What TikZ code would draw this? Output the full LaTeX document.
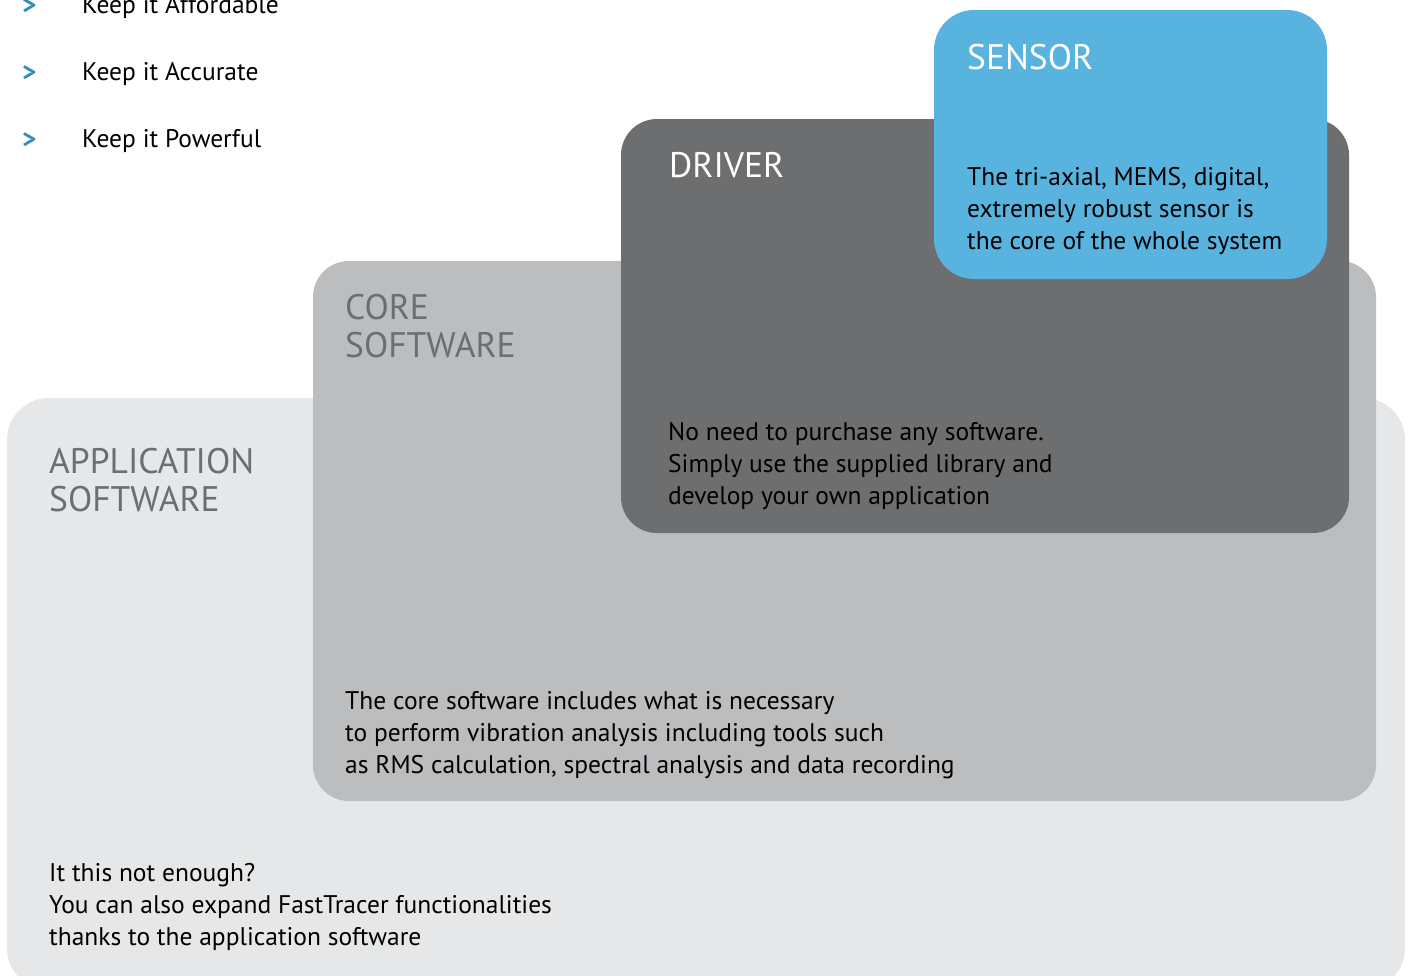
\documentclass[tikz,border=0pt]{standalone}
\usepackage{fontspec}
\setmainfont{PT Sans}
\definecolor{appfill}{RGB}{230,231,232}
\definecolor{corefill}{RGB}{188,189,191}
\definecolor{driverfill}{RGB}{109,110,112}
\definecolor{sensorfill}{RGB}{88,180,222}
\definecolor{bulletblue}{RGB}{52,142,184}
\definecolor{headgray}{RGB}{109,110,112}
\tikzset{
  heading/.style={anchor=north west, inner sep=0pt, align=left, font=\fontsize{35.5}{38}\selectfont},
  body/.style={anchor=north west, inner sep=0pt, align=left, font=\fontsize{25.5}{32}\selectfont, text=black},
  bullet/.style={anchor=west, inner sep=0pt, text=bulletblue, font=\bfseries\fontsize{27}{30}\selectfont},
  item/.style={anchor=west, inner sep=0pt, text=black, font=\fontsize{25.5}{30}\selectfont},
}
\begin{document}
\begin{tikzpicture}[x=1pt,y=-1pt]
\useasboundingbox (0,0) rectangle (1408,975);
% layers
\fill[appfill, rounded corners=42pt] (7,398) rectangle (1405,990);
\fill[corefill, rounded corners=36pt] (313,261) rectangle (1376,801);
\fill[driverfill, rounded corners=36pt] (621,119) rectangle (1349,533);
\fill[sensorfill, rounded corners=40pt] (934,10) rectangle (1327,279);
% bullets
\node[bullet] (b1) at (22,7) {>};
\node[item] (i1) at (82,7) {Keep it Affordable};
\node[bullet] (b2) at (22,74) {>};
\node[item] (i2) at (82,74) {Keep it Accurate};
\node[bullet] (b3) at (22,141) {>};
\node[item] (i3) at (82,141) {Keep it Powerful};
% headings
\node[heading, text=white] (sensorh) at (967,44) {SENSOR};
\node[heading, text=white] (driverh) at (669,152) {DRIVER};
\node[heading, text=headgray] (coreh) at (345,294) {CORE\\SOFTWARE};
\node[heading, text=headgray] (apph) at (49,448) {APPLICATION\\SOFTWARE};
% bodies
\node[body] (sensorb) at (967,167) {The tri-axial, MEMS, digital,\\extremely robust sensor is\\the core of the whole system};
\node[body] (driverb) at (668,422) {No need to purchase any software.\\Simply use the supplied library and\\develop your own application};
\node[body] (coreb) at (345,691) {The core software includes what is necessary\\to perform vibration analysis including tools such\\as RMS calculation, spectral analysis and data recording};
\node[body] (appb) at (49,863) {It this not enough?\\You can also expand FastTracer functionalities\\thanks to the application software};
\end{tikzpicture}
\end{document}
